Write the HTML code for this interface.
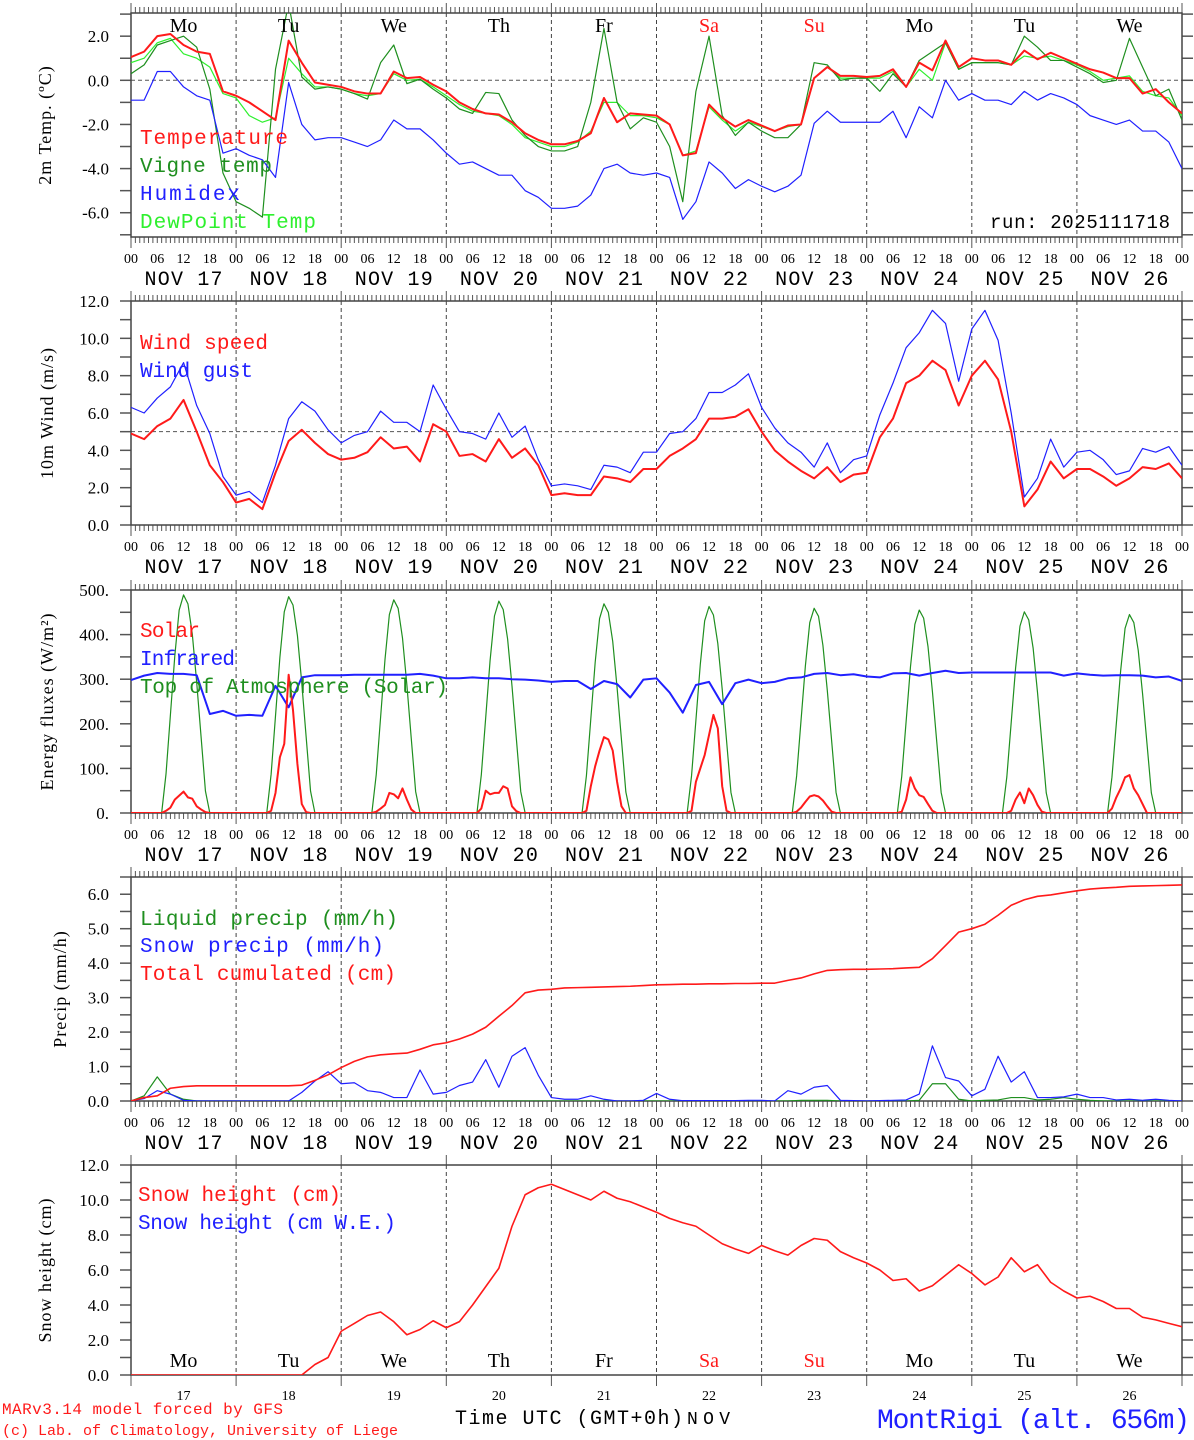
<!DOCTYPE html>
<html><head><meta charset="utf-8"><title>MontRigi forecast</title>
<style>
html,body{margin:0;padding:0;background:#fff;}
svg{display:block;}
text{font-family:"Liberation Mono","DejaVu Sans Mono",monospace;}
.serif{font-family:"Liberation Serif","DejaVu Serif",serif;}
</style></head>
<body>
<svg id="chart" width="1194" height="1440" viewBox="0 0 1194 1440" xmlns="http://www.w3.org/2000/svg"></svg>
<script>
// ===== Data (3-hourly unless noted; 81 points from Nov 17 00 UTC to Nov 27 00 UTC) =====
const dayNames = ["Mo","Tu","We","Th","Fr","Sa","Su","Mo","Tu","We"];
const dayNumbers = ["17","18","19","20","21","22","23","24","25","26"];
const hourLabels = ["00","06","12","18"];
const tempTicks = [2,0,-2,-4,-6];
const windTicks = [12,10,8,6,4,2,0];
const energyTicks = [500,400,300,200,100,0];
const precipTicks = [6,5,4,3,2,1,0];
const snowTicks = [12,10,8,6,4,2,0];

const temperature = [
 1.05,1.3,2.0,2.1,1.6,1.3,1.2,-0.5,
 -0.7,-1.0,-1.4,-1.8,1.8,0.8,-0.1,-0.2,
 -0.3,-0.5,-0.6,-0.6,0.4,0.1,0.15,-0.2,
 -0.5,-1.0,-1.3,-1.5,-1.55,-1.9,-2.4,-2.7,
 -2.9,-2.9,-2.75,-2.4,-0.8,-1.9,-1.5,-1.55,
 -1.6,-2.0,-3.4,-3.3,-1.1,-1.7,-2.1,-1.8,
 -2.05,-2.3,-2.05,-2.0,0.1,0.6,0.2,0.2,
 0.15,0.2,0.5,-0.3,0.8,0.45,1.8,0.6,
 1.0,0.9,0.9,0.7,1.35,0.95,1.25,1.0,
 0.75,0.5,0.35,0.1,0.1,-0.6,-0.4,-1.0,-1.5];
const vigneTemp = [
 0.3,0.7,1.6,1.8,2.0,1.5,-0.4,-4.2,
 -5.5,-5.8,-6.2,0.5,3.5,0.15,-0.4,-0.3,
 -0.4,-0.6,-0.85,0.8,1.6,-0.15,0.05,-0.4,
 -0.8,-1.3,-1.5,-0.55,-0.6,-1.8,-2.5,-3.0,
 -3.2,-3.2,-3.0,-1.0,2.35,-1.0,-2.2,-1.7,
 -1.9,-3.0,-5.5,-0.5,2.0,-1.6,-2.5,-1.9,
 -2.3,-2.6,-2.6,-2.0,0.8,0.7,0.0,0.1,
 0.1,-0.5,0.3,-0.3,0.9,1.3,1.7,0.5,
 0.8,0.8,0.8,0.7,2.0,1.5,0.9,0.9,
 0.6,0.3,-0.1,0.0,1.9,0.6,-0.7,-0.4,-1.8];
const humidex = [
 -0.9,-0.9,0.4,0.4,-0.3,-0.7,-0.9,-3.3,
 -3.1,-3.4,-3.6,-4.4,-0.1,-2.0,-2.7,-2.6,
 -2.6,-2.8,-3.0,-2.7,-1.8,-2.2,-2.2,-2.7,
 -3.3,-3.8,-3.7,-4.0,-4.3,-4.3,-5.0,-5.3,
 -5.8,-5.8,-5.7,-5.2,-4.0,-3.8,-4.2,-4.3,
 -4.2,-4.4,-6.3,-5.5,-3.7,-4.2,-4.9,-4.5,
 -4.8,-5.05,-4.8,-4.3,-1.95,-1.4,-1.9,-1.9,
 -1.9,-1.9,-1.4,-2.6,-1.2,-1.7,0.0,-0.9,
 -0.6,-0.9,-0.9,-1.1,-0.5,-0.9,-0.6,-0.8,
 -1.1,-1.6,-1.8,-2.0,-1.8,-2.3,-2.3,-2.8,-4.0];
const dewPoint = [
 0.8,1.0,1.7,1.9,1.2,1.0,0.6,-0.6,
 -0.8,-1.6,-1.9,-1.7,1.0,0.3,-0.3,-0.3,
 -0.4,-0.6,-0.7,-0.6,0.3,0.0,0.05,-0.3,
 -0.7,-1.1,-1.4,-1.5,-1.6,-2.0,-2.6,-2.8,
 -3.0,-3.0,-2.8,-2.3,-1.0,-1.0,-1.6,-1.6,
 -1.7,-2.0,-3.4,-3.2,-1.2,-1.8,-2.3,-1.9,
 -2.1,-2.3,-2.1,-2.0,0.1,0.6,0.1,0.1,
 0.1,0.1,0.4,-0.3,0.5,0.0,1.7,0.5,
 0.8,0.8,0.8,0.7,1.1,1.0,1.1,0.9,
 0.7,0.4,0.0,0.1,0.2,-0.5,-0.7,-0.8,-1.6];

const windSpeed = [
 4.9,4.6,5.3,5.7,6.7,5.0,3.2,2.3,
 1.2,1.4,0.85,2.8,4.5,5.1,4.4,3.8,
 3.5,3.6,3.9,4.7,4.1,4.2,3.4,5.4,
 5.0,3.7,3.8,3.4,4.6,3.6,4.1,3.2,
 1.6,1.7,1.6,1.6,2.6,2.5,2.3,3.0,
 3.0,3.7,4.1,4.6,5.7,5.7,5.8,6.2,
 5.0,4.0,3.4,2.9,2.5,3.1,2.3,2.7,
 2.8,4.7,5.7,7.6,8.0,8.8,8.3,6.4,
 8.0,8.8,7.8,5.0,1.0,1.9,3.4,2.5,
 3.0,3.0,2.6,2.1,2.5,3.1,3.0,3.3,2.5];
const windGust = [
 6.3,6.0,6.8,7.4,8.7,6.4,4.9,2.6,
 1.6,1.8,1.2,3.2,5.7,6.6,6.1,5.1,
 4.4,4.8,5.0,6.1,5.5,5.5,5.0,7.5,
 6.2,5.0,4.9,4.6,6.0,4.7,5.3,3.5,
 2.1,2.2,2.1,1.9,3.2,3.1,2.8,3.9,
 3.9,4.9,5.0,5.7,7.1,7.1,7.5,8.1,
 6.3,5.2,4.4,3.9,3.1,4.4,2.8,3.5,
 3.7,5.9,7.6,9.5,10.3,11.5,10.8,7.7,
 10.5,11.5,9.9,6.0,1.5,2.5,4.6,3.1,
 3.9,4.0,3.5,2.7,2.9,4.1,3.9,4.2,3.2];

// hourly rows (one row of 24 per day) + final value
const solarHourly = [
 0,0,0,0,0,0,0,0, 5,12,30,39,48,35,32,15,8,2, 0,0,0,0,0,0,
 0,0,0,0,0,0,0,0, 5,45,125,155,310,230,110,20,2,0, 0,0,0,0,0,0,
 0,0,0,0,0,0,0,0, 3,10,18,45,42,33,55,30,8,0, 0,0,0,0,0,0,
 0,0,0,0,0,0,0,0, 10,50,42,45,45,60,55,15,4,0, 0,0,0,0,0,0,
 0,0,0,0,0,0,0,0, 5,60,105,140,170,165,140,70,15,0, 0,0,0,0,0,0,
 0,0,0,0,0,0,0,0, 5,70,100,130,175,220,190,60,5,0, 0,0,0,0,0,0,
 0,0,0,0,0,0,0,0, 3,12,25,37,40,37,28,15,3,0, 0,0,0,0,0,0,
 0,0,0,0,0,0,0,0, 3,30,80,55,40,36,20,5,0,0, 0,0,0,0,0,0,
 0,0,0,0,0,0,0,0, 0,5,30,46,22,55,40,18,3,0, 0,0,0,0,0,0,
 0,0,0,0,0,0,0,0, 10,35,55,80,85,55,40,20,0,0, 0,0,0,0,0,0,
 0];
const toaHourly = [
 0,0,0,0,0,0,0,0, 88,220,352,455,489,469,401,293,171,49, 0,0,0,0,0,0,
 0,0,0,0,0,0,0,0, 87,218,349,451,485,466,398,291,170,49, 0,0,0,0,0,0,
 0,0,0,0,0,0,0,0, 86,215,344,445,478,459,392,287,167,48, 0,0,0,0,0,0,
 0,0,0,0,0,0,0,0, 86,214,342,442,475,456,390,285,166,48, 0,0,0,0,0,0,
 0,0,0,0,0,0,0,0, 84,211,338,436,469,450,385,281,164,47, 0,0,0,0,0,0,
 0,0,0,0,0,0,0,0, 83,208,333,431,463,444,380,278,162,46, 0,0,0,0,0,0,
 0,0,0,0,0,0,0,0, 83,207,330,427,459,441,376,275,161,46, 0,0,0,0,0,0,
 0,0,0,0,0,0,0,0, 82,205,328,423,455,437,373,273,159,46, 0,0,0,0,0,0,
 0,0,0,0,0,0,0,0, 81,203,325,419,451,433,370,271,158,45, 0,0,0,0,0,0,
 0,0,0,0,0,0,0,0, 80,200,320,414,445,427,365,267,156,45, 0,0,0,0,0,0,
 0];
const infrared = [
 298,308,314,312,312,309,222,229,
 218,220,218,285,237,304,309,309,
 309,310,310,310,310,310,312,308,
 302,302,304,302,302,300,299,297,
 294,296,296,278,296,289,259,299,
 302,270,225,287,294,244,291,299,
 291,294,302,304,312,314,309,311,
 306,304,313,314,308,314,319,314,
 315,315,315,315,315,315,315,308,
 313,310,308,309,309,308,304,306,296];

const liquidPrecip = [
 0,0.15,0.7,0.2,0.05,0,0,0,
 0,0,0,0,0,0,0,0,
 0,0,0,0,0,0,0,0,
 0,0,0,0,0,0,0,0,
 0,0,0,0,0,0,0,0,
 0,0,0,0,0,0,0,0,
 0,0,0,0.02,0.02,0.02,0,0,
 0,0,0,0,0.02,0.5,0.5,0.05,
 0,0.02,0.03,0.1,0.1,0.03,0.05,0.1,
 0.05,0.02,0,0,0,0,0,0,0];
const snowPrecip = [
 0,0.07,0.3,0.2,0.02,0,0,0,
 0,0,0,0,0,0.25,0.58,0.85,
 0.5,0.53,0.3,0.25,0.1,0.1,0.9,0.2,
 0.25,0.45,0.55,1.2,0.4,1.3,1.55,0.75,
 0.1,0.05,0.05,0.15,0.05,0,0,0.02,
 0.22,0.05,0.01,0.01,0.01,0.01,0.01,0.02,
 0.02,0,0.3,0.2,0.4,0.45,0.02,0.01,
 0,0.01,0.02,0.03,0.2,1.6,0.68,0.58,
 0.15,0.34,1.3,0.55,0.85,0.1,0.1,0.12,
 0.2,0.1,0.1,0.03,0.05,0.02,0.05,0.02,0];
const totalCumulated = [
 0,0.1,0.15,0.37,0.42,0.44,0.44,0.44,
 0.44,0.44,0.44,0.44,0.44,0.46,0.6,0.76,
 0.97,1.15,1.28,1.34,1.37,1.39,1.5,1.63,
 1.69,1.8,1.94,2.14,2.46,2.77,3.14,3.22,
 3.24,3.28,3.29,3.3,3.31,3.32,3.33,3.35,
 3.37,3.38,3.39,3.39,3.4,3.4,3.41,3.41,
 3.42,3.42,3.5,3.57,3.69,3.79,3.81,3.82,
 3.82,3.83,3.84,3.86,3.88,4.13,4.51,4.9,
 5.0,5.13,5.39,5.68,5.84,5.94,5.98,6.04,
 6.1,6.15,6.18,6.2,6.23,6.24,6.25,6.26,6.27];

const snowHeight = [
 0,0,0,0,0,0,0,0,
 0,0,0,0,0,0,0.6,1.0,
 2.5,2.95,3.4,3.6,3.05,2.3,2.6,3.1,
 2.7,3.05,4.0,5.05,6.1,8.5,10.3,10.7,
 10.9,10.6,10.3,10.0,10.5,10.1,9.9,9.6,
 9.3,8.95,8.7,8.5,8.0,7.5,7.2,6.95,
 7.4,7.1,6.85,7.4,7.8,7.7,7.05,6.7,
 6.4,6.0,5.4,5.5,4.8,5.1,5.7,6.3,
 5.8,5.15,5.6,6.7,5.9,6.3,5.3,4.8,
 4.4,4.5,4.2,3.8,3.8,3.3,3.15,2.95,2.76];

// ===== Rendering =====
const NS = "http://www.w3.org/2000/svg";
const svg = document.getElementById("chart");
const X0 = 131, X1 = 1182, HOURS = 240;
function xOf(h){ return X0 + h * (X1 - X0) / HOURS; }
function yScale(p){ return v => p.bottom - (v - p.min) / (p.max - p.min) * (p.bottom - p.top); }

function add(parent, tag, attrs, name){
  const el = document.createElementNS(NS, tag);
  for (const k in attrs) el.setAttribute(k, attrs[k]);
  
  
  parent.appendChild(el);
  return el;
}
function txt(parent, x, y, s, name, opt){
  opt = opt || {};
  const el = add(parent, "text", {x:x, y:y, "font-size":opt.size||14, fill:opt.fill||"#000",
    "text-anchor":opt.anchor||"start"}, name);
  if (opt.ls) el.setAttribute("letter-spacing", opt.ls);
  if (opt.len){ el.setAttribute("textLength", opt.len); el.setAttribute("lengthAdjust", "spacing"); }
  if (opt.cls) el.setAttribute("class", opt.cls);
  if (opt.transform) el.setAttribute("transform", opt.transform);
  el.textContent = s;
  return el;
}

const panels = [
  {id:"temp", top:13, bottom:237, min:-7.1, max:3.05, minor:1, ticks:tempTicks, fmt:v=>v.toFixed(1),
   title:"2m Temp. (\u00BAC)", titleX:45, hline:0, hourTicks:true},
  {id:"wind", top:301, bottom:525, min:0, max:12, minor:1, ticks:windTicks, fmt:v=>v.toFixed(1),
   title:"10m Wind (m/s)", titleX:47, hline:5, hourTicks:true},
  {id:"energy", top:590, bottom:813, min:0, max:500, minor:50, ticks:energyTicks, fmt:v=>v+".",
   title:"Energy fluxes (W/m\u00B2)", titleX:47, hline:null, hourTicks:true},
  {id:"precip", top:877, bottom:1101, min:0, max:6.5, minor:0.5, ticks:precipTicks, fmt:v=>v.toFixed(1),
   title:"Precip (mm/h)", titleX:60, hline:null, hourTicks:true},
  {id:"snow", top:1165, bottom:1375, min:0, max:12, minor:1, ticks:snowTicks, fmt:v=>v.toFixed(1),
   title:"Snow height (cm)", titleX:45, hline:null, hourTicks:false}
];

panels.forEach(p => {
  const g = add(svg, "g", {}, p.id + "-panel");
  p.g = g;
  p.y = yScale(p);
  const defs = add(g, "defs", {}, p.id + "-defs");
  const cp = add(defs, "clipPath", {id:"clip-" + p.id}, p.id + "-clip");
  add(cp, "rect", {x:X0, y:p.top, width:X1 - X0, height:p.bottom - p.top}, p.id + "-clip-rect");

  for (let d = 1; d < 10; d++){
    add(g, "line", {x1:xOf(d*24), x2:xOf(d*24), y1:p.top, y2:p.bottom, stroke:"#444", "stroke-width":1, "stroke-dasharray":"4,3"}, "day-separator");
  }
  if (p.hline !== null){
    add(g, "line", {x1:X0, x2:X1, y1:p.y(p.hline), y2:p.y(p.hline), stroke:"#555", "stroke-width":1, "stroke-dasharray":"4,3"}, "reference-line");
  }
  for (let v = p.min - (p.min % p.minor) ; v <= p.max + 1e-9; v += p.minor){
    if (v < p.min - 1e-9) continue;
    const yy = p.y(v);
    add(g, "line", {x1:120, x2:X0, y1:yy, y2:yy, stroke:"#555", "stroke-width":1.5}, "y-tick-left");
    add(g, "line", {x1:X1, x2:1193, y1:yy, y2:yy, stroke:"#555", "stroke-width":1.5}, "y-tick-right");
  }
  p.ticks.forEach(v => {
    txt(g, 109, p.y(v) + 6, p.fmt(v), "y-tick-label", {size:17, anchor:"end", cls:"serif"});
  });
  const ty = (p.top + p.bottom) / 2;
  txt(g, p.titleX, ty, p.title, "y-axis-title", {size:18, anchor:"middle", cls:"serif", ls:1, transform:"rotate(-90 " + p.titleX + " " + ty + ")"}).setAttribute("dy", "6");

  for (let h = 0; h <= HOURS; h++){
    const xx = xOf(h);
    const isDay = h % 24 === 0;
    if (p.hourTicks || isDay){
      add(g, "line", {x1:xx, x2:xx, y1:p.top - (isDay ? 10 : 6), y2:p.top, stroke:"#555", "stroke-width":1}, "x-tick-top");
      add(g, "line", {x1:xx, x2:xx, y1:p.bottom, y2:p.bottom + (isDay ? 11 : 6), stroke:"#555", "stroke-width":1}, "x-tick-bottom");
    }
  }
  add(g, "rect", {x:X0, y:p.top, width:X1 - X0, height:p.bottom - p.top, fill:"none", stroke:"#444", "stroke-width":1.5}, p.id + "-frame");

  if (p.hourTicks){
    for (let d = 0; d < 10; d++){
      hourLabels.forEach((lab, i) => {
        txt(g, xOf(d*24 + i*6), p.bottom + 26, lab, "x-hour-label", {size:14, anchor:"middle", cls:"serif"});
      });
      txt(g, xOf(d*24 + 12) - 39, p.bottom + 48, "NOV " + dayNumbers[d], "x-date-label", {size:20, len:78});
    }
    txt(g, xOf(240), p.bottom + 26, "00", "x-hour-label", {size:14, anchor:"middle", cls:"serif"});
  }
});

function series(p, data, step, color, width, name){
  let d = "";
  data.forEach((v, i) => { d += (i ? "L" : "M") + xOf(i*step).toFixed(2) + "," + p.y(v).toFixed(2); });
  add(p.g, "path", {d:d, fill:"none", stroke:color, "stroke-width":width, "stroke-linejoin":"round", "clip-path":"url(#clip-" + p.id + ")"}, name);
}
function legend(p, x, y, s, color, name, len){ txt(p.g, x, y, s, name, {size:21, fill:color, len:len}); }

const RED = "#ff1a1a", BLUE = "#2020ff", DGREEN = "#1f8f1f", LGREEN = "#2ef02e";
const [P1, P2, P3, P4, P5] = panels;

series(P1, dewPoint, 3, LGREEN, 1.2, "dewpoint-line");
series(P1, vigneTemp, 3, DGREEN, 1.2, "vigne-temp-line");
series(P1, humidex, 3, BLUE, 1.2, "humidex-line");
series(P1, temperature, 3, RED, 2, "temperature-line");
dayNames.forEach((n, d) => {
  txt(P1.g, xOf(d*24 + 12), 32, n, "day-name-top", {size:20, anchor:"middle", cls:"serif", fill:(d===5||d===6)?RED:"#000"});
});
legend(P1, 140, 144, "Temperature", RED, "legend-temperature", 148);
legend(P1, 140, 172, "Vigne temp", DGREEN, "legend-vigne-temp", 132);
legend(P1, 140, 200, "Humidex", BLUE, "legend-humidex", 100);
legend(P1, 140, 228, "DewPoint Temp", LGREEN, "legend-dewpoint", 176);
txt(P1.g, 990, 228, "run: 2025111718", "run-label", {size:19, len:180});

series(P2, windGust, 3, BLUE, 1.2, "wind-gust-line");
series(P2, windSpeed, 3, RED, 2, "wind-speed-line");
legend(P2, 140, 349, "Wind speed", RED, "legend-wind-speed", 128);
legend(P2, 140, 377, "Wind gust", BLUE, "legend-wind-gust", 113);

series(P3, toaHourly, 1, DGREEN, 1.2, "toa-solar-line");
series(P3, infrared, 3, BLUE, 2, "infrared-line");
series(P3, solarHourly, 1, RED, 2, "solar-line");
legend(P3, 140, 637, "Solar", RED, "legend-solar", 60);
legend(P3, 140, 665, "Infrared", BLUE, "legend-infrared", 95);
legend(P3, 140, 693, "Top of Atmosphere (Solar)", DGREEN, "legend-toa", 308);

series(P4, liquidPrecip, 3, DGREEN, 1.2, "liquid-precip-line");
series(P4, snowPrecip, 3, BLUE, 1.2, "snow-precip-line");
series(P4, totalCumulated, 3, RED, 1.6, "total-cumulated-line");
legend(P4, 140, 925, "Liquid precip (mm/h)", DGREEN, "legend-liquid-precip", 258);
legend(P4, 140, 952, "Snow precip (mm/h)", BLUE, "legend-snow-precip", 244);
legend(P4, 140, 980, "Total cumulated (cm)", RED, "legend-total-cumulated", 256);

series(P5, snowHeight, 3, RED, 1.6, "snow-height-line");
legend(P5, 138, 1201, "Snow height (cm)", RED, "legend-snow-height", 203);
legend(P5, 138, 1229, "Snow height (cm W.E.)", BLUE, "legend-snow-height-we", 258);
dayNames.forEach((n, d) => {
  txt(P5.g, xOf(d*24 + 12), 1367, n, "day-name-bottom", {size:20, anchor:"middle", cls:"serif", fill:(d===5||d===6)?RED:"#000"});
  txt(P5.g, xOf(d*24 + 12), 1400, dayNumbers[d], "day-number", {size:14, anchor:"middle", cls:"serif"});
});

txt(svg, 2, 1414, "MARv3.14 model forced by GFS", "model-credit", {size:16, fill:RED, len:281});
txt(svg, 2, 1435, "(c) Lab. of Climatology, University of Liege", "lab-credit", {size:15, fill:RED, len:396});
txt(svg, 455, 1424, "Time UTC (GMT+0h)", "x-axis-title", {size:20, len:228});
txt(svg, 687, 1424, "NOV", "month-label", {size:18, len:43});
txt(svg, 877, 1428, "MontRigi (alt. 656m)", "station-title", {size:28, fill:BLUE, len:313});
</script>
</body></html>
